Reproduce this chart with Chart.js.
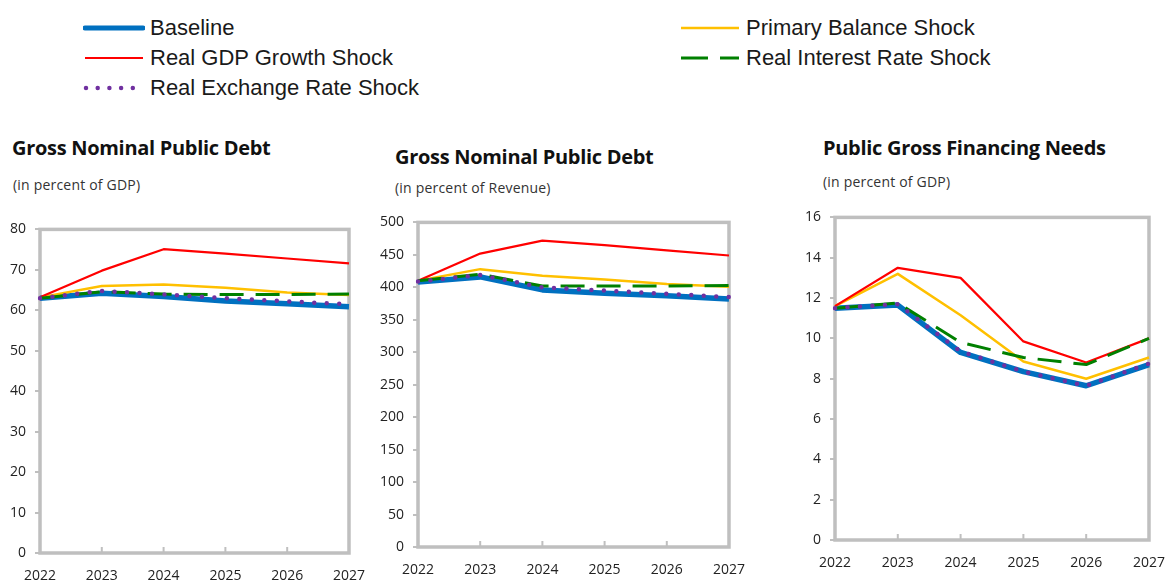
<!DOCTYPE html>
<html>
<head>
<meta charset="utf-8">
<script src="https://cdn.jsdelivr.net/npm/chart.js@4/dist/chart.umd.min.js"></script>
<style>
  html, body { margin: 0; padding: 0; background: #fff; }
  body { width: 1172px; height: 580px; position: relative; overflow: hidden; }
  .legend-item { position: absolute; height: 30px; display: flex; align-items: center;
    font-family: "Liberation Sans", Arial, sans-serif; font-size: 22px; color: #1a1a1a; white-space: nowrap; }
  .legend-item svg { margin-right: 5px; }
  .title { position: absolute; font-family: "Open Sans", sans-serif; font-weight: 700; font-size: 20px;
    color: #111; white-space: nowrap; letter-spacing: -0.3px; line-height: 22px; }
  .sub { position: absolute; font-family: "Open Sans", sans-serif; font-size: 14px; color: #333;
    white-space: nowrap; line-height: 16px; letter-spacing: 0.2px; }
  canvas { position: absolute; }
</style>
</head>
<body>

<div id="legend"></div>

<div class="title" style="left:12px; top:137px;">Gross Nominal Public Debt</div>
<div class="sub" style="left:13px; top:177px;">(in percent of GDP)</div>
<div class="title" style="left:395px; top:146px;">Gross Nominal Public Debt</div>
<div class="sub" style="left:395px; top:180px;">(in percent of Revenue)</div>
<div class="title" style="left:823px; top:137px;">Public Gross Financing Needs</div>
<div class="sub" style="left:823px; top:174px;">(in percent of GDP)</div>

<canvas id="debtGdp"></canvas>
<canvas id="debtRev"></canvas>
<canvas id="gfn"></canvas>

<script>
const years = ["2022", "2023", "2024", "2025", "2026", "2027"];

const seriesNames = [
  "Baseline",
  "Primary Balance Shock",
  "Real GDP Growth Shock",
  "Real Interest Rate Shock",
  "Real Exchange Rate Shock",
];

// Gross nominal public debt, percent of GDP
const debtGdpBaseline = [63.0, 64.2, 63.4, 62.3, 61.6, 60.9];
const debtGdpPrimary  = [63.2, 66.0, 66.4, 65.6, 64.4, 63.8];
const debtGdpGrowth   = [63.2, 69.8, 75.1, 74.0, 72.8, 71.6];
const debtGdpInterest = [63.0, 64.6, 64.0, 63.9, 63.9, 64.0];
const debtGdpExchange = [63.0, 64.8, 63.9, 63.0, 62.2, 61.5];

// Gross nominal public debt, percent of revenue
const debtRevBaseline = [408, 416, 396, 391, 387, 382];
const debtRevPrimary  = [410, 428, 418, 412, 405, 401];
const debtRevGrowth   = [410, 452, 472, 465, 457, 449];
const debtRevInterest = [410, 420, 402, 402, 402, 403];
const debtRevExchange = [409, 419, 400, 395, 390, 385];

// Public gross financing needs, percent of GDP
const gfnBaseline = [11.5, 11.65, 9.3, 8.35, 7.65, 8.7];
const gfnPrimary  = [11.6, 13.2, 11.15, 8.85, 8.0, 9.05];
const gfnGrowth   = [11.6, 13.5, 13.0, 9.85, 8.8, 10.0];
const gfnInterest = [11.5, 11.75, 9.8, 9.05, 8.7, 10.0];
const gfnExchange = [11.5, 11.7, 9.35, 8.35, 7.65, 8.75];

// line styles per scenario; lower order is drawn on top
const styles = [
  { color: "#0070C0", width: 5.5, dash: [], order: 5 },
  { color: "#FFC000", width: 2.5, dash: [], order: 4 },
  { color: "#FF0000", width: 2.2, dash: [], order: 3 },
  { color: "#008000", width: 3, dash: [24, 12], order: 2 },
  { color: "#7030A0", width: 4.5, dash: [0, 12.5], order: 1 },
];

// legend: two columns, one slot per scenario
const legendPos = [
  { left: 83, top: 13 },   // Baseline
  { left: 679, top: 13 },  // Primary Balance
  { left: 83, top: 43 },   // Real GDP Growth
  { left: 679, top: 43 },  // Real Interest Rate
  { left: 83, top: 73 },   // Real Exchange Rate
];
const legendBox = document.getElementById("legend");
seriesNames.forEach((name, i) => {
  const s = styles[i];
  const dotted = s.dash.length && s.dash[0] === 0;
  const dash = s.dash.length ? `stroke-dasharray="${dotted ? "0 11.7" : "27 12"}"` : "";
  const item = document.createElement("div");
  item.className = "legend-item";
  item.style.left = legendPos[i].left + "px";
  item.style.top = legendPos[i].top + "px";
  item.innerHTML =
    `<svg width="62" height="12"><line x1="${dotted ? 3 : 2}" y1="6" x2="60" y2="6" stroke="${s.color}" ` +
    `stroke-width="${Math.min(s.width, 5)}" stroke-linecap="${dotted || i === 0 ? "round" : "butt"}" ${dash}/></svg>` +
    `<span>${name}</span>`;
  legendBox.appendChild(item);
});

// frame around the plot area plus small inward ticks on the category axis
const framePlugin = {
  id: "frame",
  beforeDatasetsDraw(chart) {
    const { ctx, chartArea: a, scales } = chart;
    ctx.save();
    ctx.strokeStyle = "#bfbfbf";
    ctx.lineWidth = 2;
    scales.x.ticks.forEach((t, i) => {
      const px = scales.x.getPixelForTick(i);
      ctx.beginPath();
      ctx.moveTo(px, a.bottom);
      ctx.lineTo(px, a.bottom - 6);
      ctx.stroke();
    });
    ctx.lineWidth = 3.5;
    ctx.strokeRect(a.left, a.top, a.right - a.left, a.bottom - a.top);
    ctx.restore();
  },
};

function makePanel(id, box, area, values, yMax, yStep) {
  const canvas = document.getElementById(id);
  canvas.style.left = box.left + "px";
  canvas.style.top = box.top + "px";
  canvas.style.width = box.width + "px";
  canvas.style.height = box.height + "px";
  canvas.width = box.width;
  canvas.height = box.height;

  const yWidth = area.left - box.left;
  const xHeight = box.top + box.height - area.bottom;

  return new Chart(canvas, {
    type: "line",
    data: {
      labels: years,
      datasets: values.map((data, i) => ({
        label: seriesNames[i],
        data,
        borderColor: styles[i].color,
        borderWidth: styles[i].width,
        borderDash: styles[i].dash,
        borderCapStyle: styles[i].dash[0] === 0 ? "round" : "butt",
        borderJoinStyle: "round",
        order: styles[i].order,
        pointRadius: 0,
        tension: 0,
        fill: false,
      })),
    },
    options: {
      responsive: false,
      animation: false,
      events: [],
      layout: {
        padding: {
          left: 0,
          top: area.top - box.top,
          right: box.left + box.width - area.right,
          bottom: 0,
        },
      },
      plugins: { legend: { display: false }, tooltip: { enabled: false } },
      scales: {
        x: {
          offset: false,
          grid: { display: false },
          border: { display: false },
          ticks: {
            padding: 7,
            maxRotation: 0,
            color: "#222",
            font: { family: "Open Sans", size: 14 },
          },
          afterFit(scale) { scale.height = xHeight; },
        },
        y: {
          min: 0,
          max: yMax,
          grid: {
            drawOnChartArea: false,
            drawTicks: true,
            tickLength: 5,
            color: "#bfbfbf",
            lineWidth: 2,
          },
          border: { display: false },
          ticks: {
            stepSize: yStep,
            padding: 9,
            color: "#222",
            font: { family: "Open Sans", size: 14 },
          },
          afterFit(scale) { scale.width = yWidth; },
        },
      },
    },
    plugins: [framePlugin],
  });
}

makePanel("debtGdp",
  { left: 0, top: 212, width: 372, height: 368 },
  { left: 40, top: 227, right: 350, bottom: 553 },
  [debtGdpBaseline, debtGdpPrimary, debtGdpGrowth, debtGdpInterest, debtGdpExchange],
  80, 10);

makePanel("debtRev",
  { left: 372, top: 205, width: 380, height: 375 },
  { left: 418, top: 221, right: 732, bottom: 547 },
  [debtRevBaseline, debtRevPrimary, debtRevGrowth, debtRevInterest, debtRevExchange],
  500, 50);

makePanel("gfn",
  { left: 752, top: 200, width: 420, height: 380 },
  { left: 835, top: 215, right: 1152, bottom: 540 },
  [gfnBaseline, gfnPrimary, gfnGrowth, gfnInterest, gfnExchange],
  16, 2);
</script>
</body>
</html>
